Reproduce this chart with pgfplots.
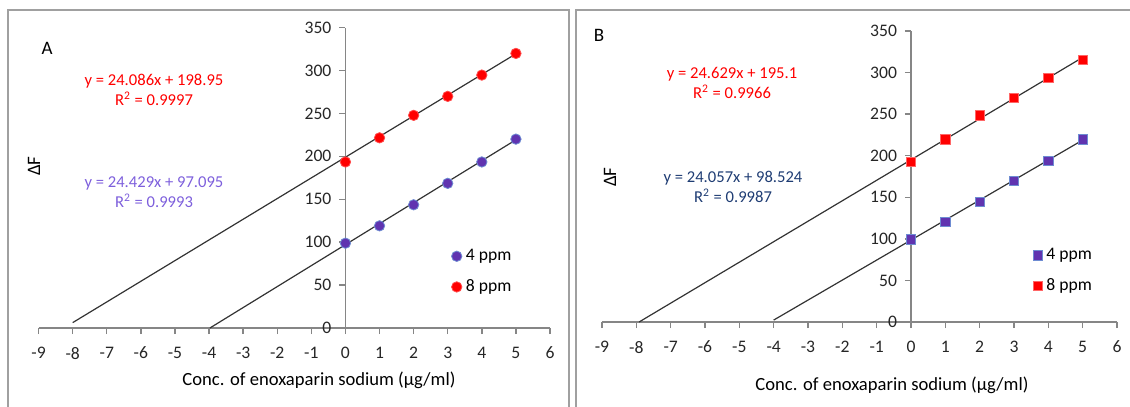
\documentclass[border=0pt]{standalone}
\usepackage{fontspec}
\setmainfont{Carlito}
\usepackage{pgfplots}
\pgfplotsset{compat=1.18}

\definecolor{purp}{RGB}{96,52,176}
\definecolor{purpedge}{RGB}{110,140,210}
\definecolor{eqpurp}{RGB}{125,95,220}
\definecolor{eqblue}{RGB}{30,60,115}
\definecolor{axgray}{RGB}{134,134,134}
\definecolor{framegray}{RGB}{160,160,160}

\pgfplotsset{
  panel/.style={
    scale only axis,
    axis lines=middle,
    axis line style={-, axgray, line width=0.7pt},
    xmin=-9, xmax=6, ymin=0, ymax=350,
    xtick={-9,...,6}, ytick={0,50,...,350},
    hide obscured x ticks=false, hide obscured y ticks=false,
    tick align=outside,
    major tick length=3pt,
    tick style={axgray, line width=0.7pt},
    tick label style={font=\fontsize{8.8}{10}\selectfont, text=black!85},
    /pgf/number format/assume math mode=true,
    xticklabel style={yshift=-3pt},
    yticklabel style={xshift=-0.5pt},
    legend cell align=left,
    legend style={draw=none, fill=none, font=\fontsize{8.8}{10}\selectfont,
      row sep=4pt, inner sep=0pt},
    clip=false,
  },
  trend/.style={black!80, line width=0.6pt, forget plot},
}

\begin{document}
\begin{tikzpicture}
\useasboundingbox (0,0) rectangle (565pt,-203.5pt);
% frames
\draw[framegray, line width=0.8pt] (4pt,-210pt) -- (4pt,-5pt) -- (284.5pt,-5pt) -- (284.5pt,-210pt);
\draw[framegray, line width=0.8pt] (288pt,-210pt) -- (288pt,-5pt) -- (570pt,-5pt);

% panel A
\begin{axis}[panel, at={(19.3pt,-164pt)}, anchor=south west,
  width=255.7pt, height=150.25pt,
  legend style={at={(axis cs:3.1,97)}, anchor=north west}]
\addplot[trend] coordinates {(-8,6.26) (5,319.38)};
\addplot[trend] coordinates {(-3.975,0) (5,219.24)};
\addplot[only marks, mark=*, mark size=2.6pt, mark options={fill=purp, draw=purpedge, line width=0.4pt}]
  coordinates {(0,98.8) (1,119) (2,143.5) (3,168.5) (4,193.4) (5,220)};
\addlegendentry{4 ppm}
\addplot[only marks, mark=*, mark size=2.6pt, mark options={fill=red, draw=red!70!white, line width=0.4pt}]
  coordinates {(0,193.4) (1,221.5) (2,247.7) (3,269.8) (4,294.6) (5,319.8)};
\addlegendentry{8 ppm}
\end{axis}

% panel B
\begin{axis}[panel, at={(301pt,-161pt)}, anchor=south west,
  width=257.5pt, height=145.5pt,
  legend style={at={(axis cs:3.55,94)}, anchor=north west}]
\addplot[trend] coordinates {(-7.92,0) (5,318.25)};
\addplot[trend] coordinates {(-4,2.3) (5,218.81)};
\addplot[only marks, mark=square*, mark size=2.3pt, mark options={fill=purp, draw=purpedge, line width=0.4pt}]
  coordinates {(0,99.4) (1,120.3) (2,144.3) (3,170) (4,194) (5,219.7)};
\addlegendentry{4 ppm}
\addplot[only marks, mark=square*, mark size=2.3pt, mark options={fill=red, draw=red!60!white, line width=0.4pt}]
  coordinates {(0,192.9) (1,219.7) (2,248.6) (3,269.4) (4,293.9) (5,314.8)};
\addlegendentry{8 ppm}
\end{axis}

% texts A
\node[font=\fontsize{9.5}{10}\selectfont] at (23.5pt,-24pt) {A};
\node[font=\fontsize{9.5}{10}\selectfont, rotate=90] at (17pt,-83pt) {ΔF};
\node[font=\fontsize{9.3}{10}\selectfont] at (159.5pt,-190pt) {Conc. of enoxaparin sodium (µg/ml)};
\node[font=\fontsize{8.3}{10}\selectfont, text=red, align=center] at (77pt,-45pt)
  {y = 24.086x + 198.95\\R\textsuperscript{2} = 0.9997};
\node[font=\fontsize{8.3}{10}\selectfont, text=eqpurp, align=center] at (77pt,-96pt)
  {y = 24.429x + 97.095\\R\textsuperscript{2} = 0.9993};

% texts B
\node[font=\fontsize{9.5}{10}\selectfont] at (299.5pt,-17.5pt) {B};
\node[font=\fontsize{9.5}{10}\selectfont, rotate=90] at (305pt,-88.5pt) {ΔF};
\node[font=\fontsize{9.3}{10}\selectfont] at (446pt,-192.5pt) {Conc. of enoxaparin sodium (µg/ml)};
\node[font=\fontsize{8.3}{10}\selectfont, text=red, align=center] at (366pt,-41.5pt)
  {y = 24.629x + 195.1\\R\textsuperscript{2} = 0.9966};
\node[font=\fontsize{8.3}{10}\selectfont, text=eqblue, align=center] at (366.5pt,-93.5pt)
  {y = 24.057x + 98.524\\R\textsuperscript{2} = 0.9987};
\end{tikzpicture}
\end{document}
